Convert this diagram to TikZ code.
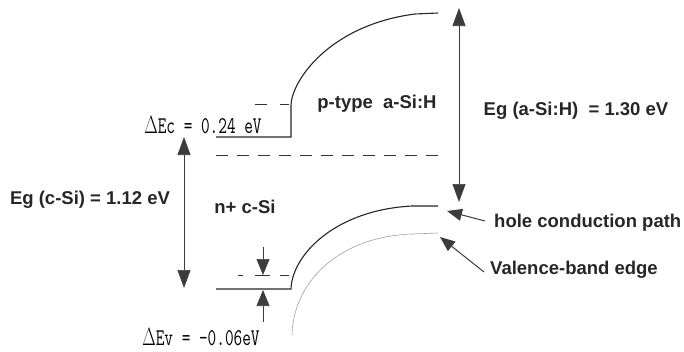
\documentclass[tikz,border=0pt]{standalone}
\usepackage{fontspec}
\setmainfont{Liberation Sans}
\usepackage{tikz}
\usetikzlibrary{arrows.meta}
\definecolor{arrowcolor}{HTML}{3c3c3c}
\definecolor{edgecolor}{HTML}{a0a0a0}

\begin{document}
\begin{tikzpicture}[
    x=1pt, y=-1pt,
    band/.style={line width=1.1pt, black!85},
    edgeline/.style={line width=0.6pt, edgecolor},
    gapline/.style={line width=0.9pt, black!80, dash pattern=on 12pt off 9pt},
    shortdash/.style={line width=0.9pt, black!80},
    gaparrow/.style={line width=0.7pt, arrowcolor,
                     {Triangle[width=13pt,length=18pt]}-{Triangle[width=13pt,length=18pt]}},
    offsetarrow/.style={line width=0.7pt, arrowcolor, -{Triangle[width=13pt,length=16pt]}},
    pointer/.style={line width=1pt, arrowcolor, -{Triangle[width=12pt,length=15pt]}},
    bandtext/.style={font=\fontsize{18.5}{20}\selectfont\bfseries, text=black!85, inner sep=0pt},
    monotext/.style={font=\fontsize{24}{24}\selectfont\ttfamily, text=black, inner sep=0pt}
]
\useasboundingbox (0,0) rectangle (684,351);

\coordinate (cbLeft) at (216,137);
\coordinate (cbStep) at (291,137);
\coordinate (cbRight) at (438,13);
\coordinate (vbLeft) at (216,289);
\coordinate (vbStep) at (291,289);
\coordinate (vbRight) at (438,206);
\coordinate (edgeBottom) at (292,335);
\coordinate (edgeRight) at (438,233);

\draw[band] (cbLeft) -- (cbStep) -- (291,105)
    .. controls (292,80) and (330,25) .. (415,14) -- (cbRight);
\draw[band] (vbLeft) -- (vbStep)
    .. controls (292,255) and (335,210) .. (412,206) -- (vbRight);
\draw[edgeline] (edgeBottom)
    .. controls (293,285) and (335,237) .. (412,234) -- (edgeRight);

\draw[gapline] (216,155) -- (438,155);
\draw[shortdash] (255,104) -- (267,104) (280,104) -- (289,104);
\draw[shortdash] (238,275) -- (243,275) (255,275) -- (270,275) (280,275) -- (289,275);

\coordinate (cgapTop) at (184,137);
\coordinate (cgapBottom) at (184,288);
\coordinate (agapTop) at (459,8);
\coordinate (agapBottom) at (459,202);
\draw[gaparrow] (cgapTop) -- (cgapBottom);
\draw[gaparrow] (agapTop) -- (agapBottom);

\coordinate (dEvTop) at (263,247);
\coordinate (dEvUpper) at (263,275);
\coordinate (dEvBottom) at (263,322);
\coordinate (dEvLower) at (263,290);
\draw[offsetarrow] (dEvTop) -- (dEvUpper);
\draw[offsetarrow] (dEvBottom) -- (dEvLower);

\node[monotext] (dEc) at (203,125) {\scalebox{0.7}[1]{$\Delta$Ec = 0.24 eV}};
\node[monotext] (dEv) at (201,337) {\scalebox{0.7}[1]{$\Delta$Ev = -0.06eV}};
\node[bandtext] (egc) at (90,200) {Eg (c-Si) = 1.12 eV};
\node[bandtext] (ntype) at (245,207) {n+ c-Si};
\node[bandtext] (ptype) at (377,104) {p-type\ \ a-Si:H};
\node[bandtext] (ega) at (576,111) {Eg (a-Si:H)\ \ = 1.30 eV};
\node[bandtext, anchor=west] (hole) at (494,223) {hole conduction path};
\node[bandtext, anchor=west] (vedge) at (490,270) {Valence-band edge};

\coordinate (holeTip) at (447,211);
\coordinate (vedgeTip) at (440,237);
\draw[pointer] ([xshift=-9pt,yshift=2pt]hole.west) -- (holeTip);
\draw[pointer] ([xshift=-6pt,yshift=-2pt]vedge.west) -- (vedgeTip);
\end{tikzpicture}
\end{document}
